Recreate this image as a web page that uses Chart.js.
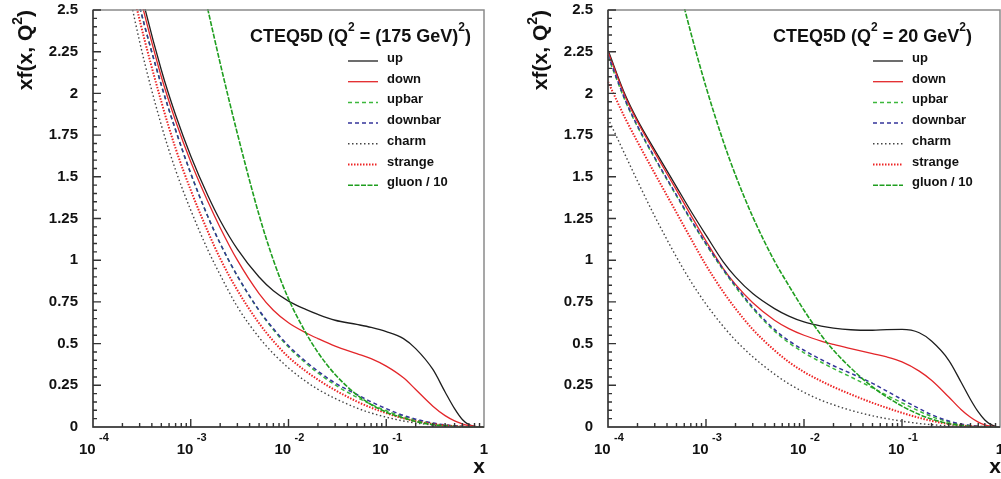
<!DOCTYPE html>
<html>
<head>
<meta charset="utf-8">
<script src="https://cdn.jsdelivr.net/npm/chart.js@4.4.1/dist/chart.umd.min.js"></script>
<style>
  html, body { margin: 0; padding: 0; background: #fff; overflow: hidden; }
  #wrap { position: relative; width: 1001px; height: 479px; }
  canvas { position: absolute; top: 0; }
</style>
</head>
<body>
<div id="wrap">
  <canvas id="c175" width="500" height="479" style="left:0"></canvas>
  <canvas id="c20" width="501" height="479" style="left:500px"></canvas>
</div>
<script>
// x grid shared by every curve (log spaced)
const xGrid = [1e-4, 1.5e-4, 2e-4, 3e-4, 5e-4, 7e-4, 1e-3, 1.5e-3, 2e-3, 3e-3, 5e-3, 7e-3,
  1e-2, 1.5e-2, 2e-2, 3e-2, 5e-2, 7e-2, 0.1, 0.15, 0.2, 0.3, 0.4, 0.5, 0.6, 0.7, 0.8, 0.9, 1];

const seriesNames = ['up', 'down', 'upbar', 'downbar', 'charm', 'strange', 'gluon / 10'];

// Q^2 = (175 GeV)^2  (values above 2.5 run off the top of the frame)
const up175      = [4.07, 3.49, 3.12, 2.64, 2.14, 1.87, 1.625, 1.386, 1.238, 1.066, 0.899, 0.817, 0.755, 0.705, 0.675, 0.64, 0.615, 0.597, 0.572, 0.53, 0.47, 0.345, 0.21, 0.11, 0.045, 0.014, 0.004, 0.0008, 0];
const down175    = [3.95, 3.38, 3.03, 2.59, 2.10, 1.835, 1.59, 1.35, 1.195, 1.0, 0.80, 0.70, 0.625, 0.565, 0.53, 0.485, 0.44, 0.41, 0.365, 0.295, 0.225, 0.125, 0.068, 0.037, 0.019, 0.009, 0.004, 0.001, 0];
const upbar175   = [3.87, 3.31, 2.96, 2.52, 2.05, 1.78, 1.52, 1.26, 1.10, 0.904, 0.697, 0.583, 0.479, 0.383, 0.324, 0.252, 0.178, 0.136, 0.097, 0.061, 0.041, 0.021, 0.011, 0.0063, 0.0035, 0.0017, 0.0007, 0, 0];
const downbar175 = [3.87, 3.31, 2.96, 2.52, 2.05, 1.78, 1.52, 1.26, 1.10, 0.906, 0.70, 0.59, 0.487, 0.393, 0.335, 0.263, 0.195, 0.151, 0.11, 0.069, 0.047, 0.024, 0.013, 0.0075, 0.0042, 0.002, 0.0008, 0, 0];
const charm175   = [3.92, 3.22, 2.81, 2.31, 1.81, 1.54, 1.30, 1.06, 0.912, 0.721, 0.537, 0.44, 0.354, 0.274, 0.226, 0.171, 0.114, 0.084, 0.059, 0.036, 0.024, 0.012, 0.006, 0.003, 0.001, 0, 0, 0, 0];
const strange175 = [3.87, 3.27, 2.90, 2.44, 1.95, 1.67, 1.42, 1.17, 1.01, 0.82, 0.622, 0.515, 0.419, 0.335, 0.284, 0.221, 0.153, 0.116, 0.083, 0.052, 0.035, 0.018, 0.0097, 0.0054, 0.003, 0.0015, 0.0006, 0, 0];
const gluon175   = [5.35, 4.95, 4.65, 4.25, 3.7, 3.35, 2.96, 2.5, 2.181, 1.759, 1.271, 1.001, 0.768, 0.566, 0.447, 0.315, 0.193, 0.135, 0.089, 0.054, 0.033, 0.014, 0.007, 0.003, 0.0015, 0.0005, 0, 0, 0];

// Q^2 = 20 GeV^2
const up20      = [2.26, 1.99, 1.84, 1.66, 1.44, 1.295, 1.15, 0.99, 0.90, 0.80, 0.71, 0.665, 0.63, 0.605, 0.593, 0.583, 0.58, 0.584, 0.585, 0.565, 0.515, 0.40, 0.27, 0.165, 0.09, 0.042, 0.016, 0.004, 0];
const down20    = [2.25, 1.98, 1.83, 1.645, 1.42, 1.27, 1.115, 0.95, 0.855, 0.745, 0.64, 0.59, 0.55, 0.515, 0.495, 0.47, 0.44, 0.42, 0.39, 0.335, 0.28, 0.18, 0.105, 0.058, 0.029, 0.013, 0.005, 0.0015, 0];
const upbar20   = [2.22, 1.955, 1.80, 1.61, 1.385, 1.24, 1.095, 0.94, 0.84, 0.71, 0.575, 0.505, 0.445, 0.388, 0.35, 0.30, 0.235, 0.19, 0.145, 0.095, 0.063, 0.03, 0.015, 0.0075, 0.0037, 0.0018, 0.0007, 0, 0];
const downbar20 = [2.23, 1.96, 1.805, 1.615, 1.39, 1.245, 1.10, 0.946, 0.847, 0.718, 0.585, 0.517, 0.46, 0.404, 0.367, 0.322, 0.262, 0.215, 0.165, 0.11, 0.074, 0.036, 0.018, 0.009, 0.0045, 0.002, 0.0008, 0, 0];
const charm20   = [1.85, 1.63, 1.474, 1.263, 1.019, 0.873, 0.737, 0.603, 0.52, 0.421, 0.317, 0.259, 0.208, 0.16, 0.133, 0.10, 0.067, 0.05, 0.035, 0.021, 0.014, 0.006, 0.003, 0.0012, 0.0004, 0, 0, 0, 0];
const strange20 = [2.07, 1.85, 1.71, 1.52, 1.285, 1.13, 0.97, 0.81, 0.71, 0.585, 0.46, 0.39, 0.33, 0.275, 0.24, 0.196, 0.145, 0.115, 0.085, 0.055, 0.037, 0.018, 0.009, 0.0045, 0.002, 0.001, 0, 0, 0];
const gluon20   = [4.53, 4.04, 3.70, 3.24, 2.70, 2.364, 2.039, 1.713, 1.51, 1.26, 0.994, 0.848, 0.70, 0.55, 0.46, 0.354, 0.24, 0.18, 0.125, 0.075, 0.048, 0.02, 0.009, 0.004, 0.0015, 0.0005, 0, 0, 0];

// axis labels
const yTicks = [0, 0.25, 0.5, 0.75, 1, 1.25, 1.5, 1.75, 2, 2.25, 2.5];
const xDecades = [1e-4, 1e-3, 1e-2, 1e-1, 1];
const xDecadeExp = ['-4', '-3', '-2', '-1', ''];

const FONT = '"Liberation Sans", Arial, Helvetica, sans-serif';

// line styles, in the order of seriesNames
const styles = [
  { color: '#1e1e1e', width: 1.3, dash: [] },
  { color: '#e3262a', width: 1.3, dash: [] },
  { color: '#3cb83c', width: 1.5, dash: [4, 3] },
  { color: '#34349a', width: 1.5, dash: [4, 3] },
  { color: '#444444', width: 1.4, dash: [1.5, 2.5] },
  { color: '#ee2424', width: 2.0, dash: [1.5, 1.5] },
  { color: '#1f9e1f', width: 1.6, dash: [5, 1.5] }
];

function makeDatasets(list) {
  return list.map((vals, i) => ({
    label: seriesNames[i],
    data: xGrid.map((x, k) => ({ x: x, y: vals[k] })),
    borderColor: styles[i].color,
    borderWidth: styles[i].width,
    borderDash: styles[i].dash,
    pointRadius: 0,
    fill: false,
    cubicInterpolationMode: 'monotone',
    order: 6 - i,
    clip: 1
  }));
}

// draws a string with superscript parts: parts = [[text, isSup], ...]
function drawRich(ctx, parts, x, y, size, supSize, raise) {
  let cx = x;
  parts.forEach(([t, sup]) => {
    ctx.font = 'bold ' + (sup ? supSize : size) + 'px ' + FONT;
    ctx.fillText(t, cx, sup ? y - raise : y);
    cx += ctx.measureText(t).width;
  });
  return cx - x;
}
function richWidth(ctx, parts, size, supSize) {
  let w = 0;
  parts.forEach(([t, sup]) => {
    ctx.font = 'bold ' + (sup ? supSize : size) + 'px ' + FONT;
    w += ctx.measureText(t).width;
  });
  return w;
}

const decorPlugin = {
  id: 'decor',
  afterDraw(chart, args, opts) {
    const { ctx, chartArea: a, scales: { x, y } } = chart;
    ctx.save();
    // frame
    ctx.strokeStyle = '#8a8a8a';
    ctx.lineWidth = 1.5;
    ctx.strokeRect(a.left, a.top, a.right - a.left, a.bottom - a.top);
    // axis lines + inside ticks
    ctx.strokeStyle = '#333';
    ctx.lineWidth = 1.4;
    ctx.beginPath();
    ctx.moveTo(a.left, a.top); ctx.lineTo(a.left, a.bottom); ctx.lineTo(a.right, a.bottom);
    for (let i = 0; i <= 50; i++) {
      const py = y.getPixelForValue(i * 0.05);
      ctx.moveTo(a.left, py);
      ctx.lineTo(a.left + (i % 5 === 0 ? 8 : 4), py);
    }
    for (let d = -4; d < 0; d++) {
      for (let m = 1; m <= 9; m++) {
        const px = x.getPixelForValue(m * Math.pow(10, d));
        ctx.moveTo(px, a.bottom);
        ctx.lineTo(px, a.bottom - (m === 1 ? 8 : 4));
      }
    }
    ctx.stroke();

    ctx.fillStyle = '#111';
    ctx.textBaseline = 'alphabetic';
    // x tick labels: 10^n
    xDecades.forEach((v, i) => {
      const px = x.getPixelForValue(v);
      if (xDecadeExp[i] === '') {
        ctx.font = 'bold 15px ' + FONT;
        ctx.textAlign = 'center';
        ctx.fillText('1', px, 454);
      } else {
        ctx.textAlign = 'left';
        ctx.font = 'bold 15px ' + FONT;
        ctx.fillText('10', px - 14, 454);
        ctx.font = 'bold 11px ' + FONT;
        ctx.fillText(xDecadeExp[i], px + 6, 441);
      }
    });
    // x axis title
    ctx.font = 'bold 21px ' + FONT;
    ctx.textAlign = 'right';
    ctx.fillText('x', a.right + 1, 473);

    // y axis title (rotated, ends at the top of the frame)
    const yParts = [['xf(x, Q', false], ['2', true], [')', false]];
    const yw = richWidth(ctx, yParts, 21, 14);
    ctx.save();
    ctx.translate(a.left - 61, a.top + yw);
    ctx.rotate(-Math.PI / 2);
    ctx.textAlign = 'left';
    drawRich(ctx, yParts, 0, 0, 21, 14, 10);
    ctx.restore();

    // header
    ctx.textAlign = 'left';
    drawRich(ctx, opts.header, opts.headerX, 42, 18, 12, 11);

    // legend
    chart.data.datasets.forEach((ds, i) => {
      const ly = 61 + i * 20.7;
      ctx.beginPath();
      ctx.strokeStyle = ds.borderColor;
      ctx.lineWidth = ds.borderWidth;
      ctx.setLineDash(ds.borderDash);
      ctx.moveTo(opts.legendX, ly);
      ctx.lineTo(opts.legendX + 30, ly);
      ctx.stroke();
      ctx.setLineDash([]);
      ctx.font = 'bold 13px ' + FONT;
      ctx.fillStyle = '#111';
      ctx.textAlign = 'left';
      ctx.fillText(ds.label, opts.legendX + 39, ly + 1);
    });
    ctx.restore();
  }
};

function makeChart(id, lists, yWidth, padRight, header, headerX, legendX) {
  return new Chart(document.getElementById(id), {
    type: 'line',
    data: { datasets: makeDatasets(lists) },
    options: {
      responsive: false,
      animation: false,
      layout: { padding: { left: 0, top: 10, right: padRight, bottom: 0 } },
      plugins: {
        legend: { display: false },
        tooltip: { enabled: false },
        decor: { header: header, headerX: headerX, legendX: legendX }
      },
      scales: {
        x: {
          type: 'logarithmic',
          min: 1e-4,
          max: 1,
          ticks: { display: false },
          grid: { display: false, drawTicks: false },
          border: { display: false },
          afterFit: s => { s.height = 52; }
        },
        y: {
          type: 'linear',
          min: 0,
          max: 2.5,
          afterBuildTicks: s => { s.ticks = yTicks.map(v => ({ value: v })); },
          ticks: {
            padding: 15,
            color: '#111',
            font: { family: FONT, size: 15, weight: 'bold' },
            callback: v => String(+v.toFixed(2))
          },
          grid: { display: false, drawTicks: false },
          border: { display: false },
          afterFit: s => { s.width = yWidth; s.paddingTop = 0; s.paddingBottom = 0; }
        }
      }
    },
    plugins: [decorPlugin]
  });
}

makeChart('c175', [up175, down175, upbar175, downbar175, charm175, strange175, gluon175], 93, 16,
  [['CTEQ5D (Q', false], ['2', true], [' = (175 GeV)', false], ['2', true], [')', false]], 250, 348);
makeChart('c20', [up20, down20, upbar20, downbar20, charm20, strange20, gluon20], 108, 1,
  [['CTEQ5D (Q', false], ['2', true], [' = 20 GeV', false], ['2', true], [')', false]], 273, 373);
</script>
</body>
</html>
